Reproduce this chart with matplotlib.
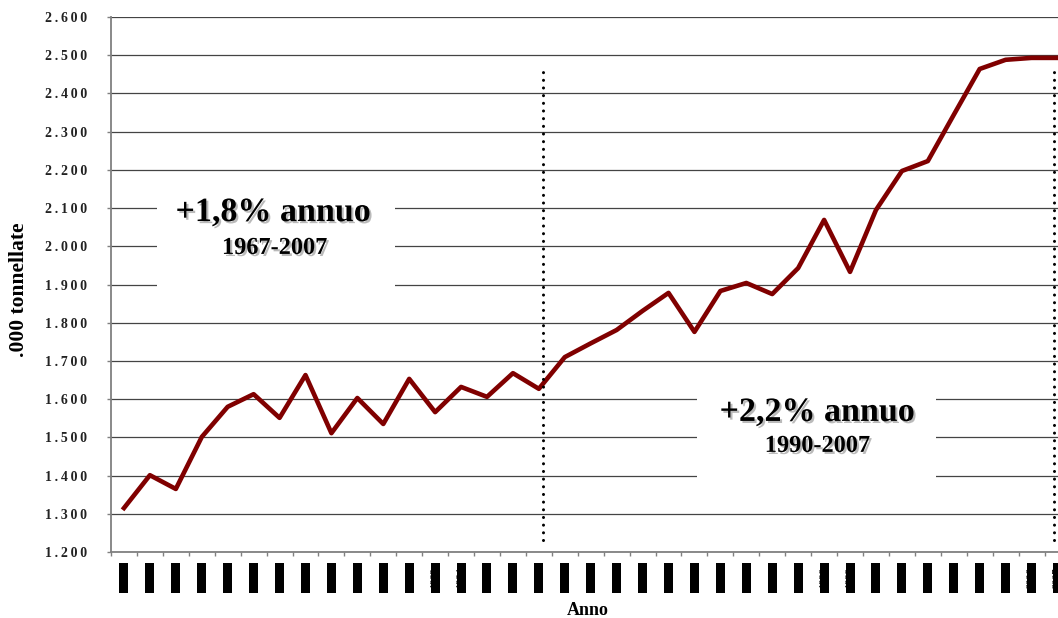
import matplotlib
matplotlib.use('Agg')
import matplotlib.pyplot as plt
import matplotlib.patheffects as pe
from matplotlib.patches import Rectangle
from matplotlib.path import Path
from matplotlib.ticker import FuncFormatter, MultipleLocator

plt.rcParams['font.family'] = ['Liberation Serif', 'DejaVu Serif']

# --- dati (migliaia di tonnellate) ---
anni = list(range(1971, 2008))
consumi = [1315, 1401, 1365, 1501, 1580, 1613, 1551, 1663, 1511, 1603,
           1535, 1653, 1566, 1632, 1606, 1668, 1627, 1710, 1746, 1781,
           1831, 1878, 1776, 1883, 1904, 1875, 1943, 2069, 1933, 2095,
           2197, 2223, 2344, 2464, 2488, 2493, 2493]

tassi = ['+1,8% annuo', '+2,2% annuo']
periodi = ['1967-2007', '1990-2007']


def box_etichetta(x0, y0, width, height, mutation_size):
    # rettangolo nero allungato lungo il testo, senza margine laterale
    p = 4.5
    return Path([(x0 - p, y0), (x0 + width + p, y0), (x0 + width + p, y0 + height),
                 (x0 - p, y0 + height), (x0 - p, y0)], closed=True)


def fmt_migliaia(v, pos):
    s = f"{v:,.0f}".replace(',', '.')
    return '\u2009'.join(s)


fig = plt.figure(figsize=(10.58, 6.18), dpi=100)
ax = fig.add_axes([111 / 1058, 66 / 618, 947 / 1058, 535 / 618])

ax.plot(range(len(consumi)), consumi, color='#800000', lw=3.3,
        solid_joinstyle='round', zorder=3)

# linee tratteggiate che delimitano il periodo
for xv in [16.15, 35.87]:
    ax.plot([xv, xv], [1231, 2456], color='black', lw=2.2,
            linestyle=(0, (0.01, 2.5)), dash_capstyle='round', zorder=4)

# riquadri bianchi dietro le scritte
ax.add_patch(Rectangle((1.27, 1860), 9.18, 314, facecolor='white',
                       edgecolor='none', zorder=2))
ax.add_patch(Rectangle((22.1, 1362), 9.2, 275, facecolor='white',
                       edgecolor='none', zorder=2))

ombra = [pe.withSimplePatchShadow(offset=(1.5, -1.5), shadow_rgbFace='#777777', alpha=0.5)]
ax.text(5.75, 2066, tassi[0], ha='center', va='baseline', fontsize=24.5,
        fontweight='bold', path_effects=ombra, zorder=5)
ax.text(5.8, 1980, periodi[0], ha='center', va='baseline', fontsize=17.5,
        fontweight='bold', path_effects=ombra, zorder=5)
ax.text(26.73, 1543, tassi[1], ha='center', va='baseline', fontsize=24.5,
        fontweight='bold', path_effects=ombra, zorder=5)
ax.text(26.73, 1462, periodi[1], ha='center', va='baseline', fontsize=17.5,
        fontweight='bold', path_effects=ombra, zorder=5)

ax.yaxis.set_major_locator(MultipleLocator(100))
ax.yaxis.set_major_formatter(FuncFormatter(fmt_migliaia))
ax.grid(axis='y', color='#444444', lw=0.9)
ax.set_axisbelow(True)

ax.set_xticks(range(len(anni)))
ax.set_xticks([i - 0.5 for i in range(len(anni) + 1)], minor=True)
ax.set_xticklabels(anni, rotation=90, fontsize=7.5, color='black')
for lbl in ax.get_xticklabels():
    lbl.set_bbox(dict(boxstyle=box_etichetta, facecolor='black', edgecolor='none'))
ax.tick_params(axis='x', which='major', length=0, pad=11.2)
ax.tick_params(axis='x', which='minor', length=3, color='#808080', width=1)
ax.tick_params(axis='y', length=3, color='#808080', width=1, pad=14)
for t in ax.get_yticklabels():
    t.set_fontweight('bold')
    t.set_fontsize(10)
    t.set_color('#222222')

# limiti dopo i tick, il bordo destro resta tagliato come nell'originale
ax.set_xlim(-0.5, 36.02)
ax.set_ylim(1200, 2600)

for s in ['top', 'right']:
    ax.spines[s].set_visible(False)
for s in ['left', 'bottom']:
    ax.spines[s].set_color('#808080')
    ax.spines[s].set_linewidth(1.3)

fig.text(0.018, 0.531, '.000 tonnellate', rotation=90, ha='center', va='center',
         fontsize=15.5, fontweight='bold')
fig.text(0.556, 0.012, 'Anno', ha='center', va='center', fontsize=13, fontweight='bold')

fig.savefig('out.png', dpi=100)
